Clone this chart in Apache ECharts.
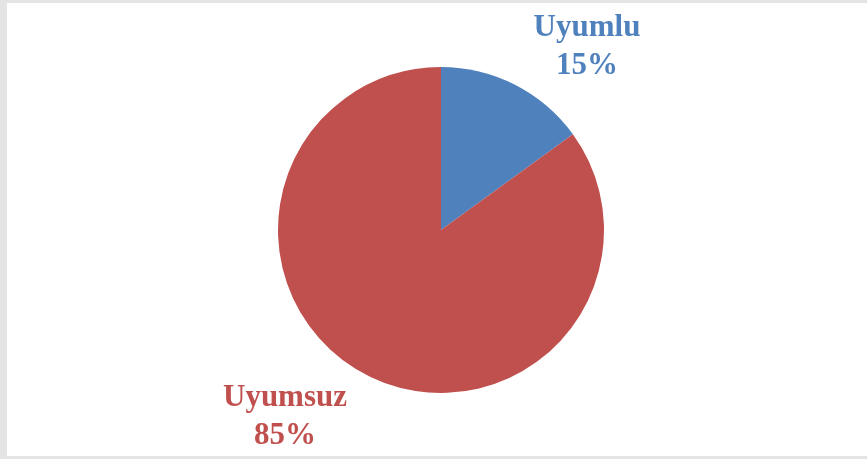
<!DOCTYPE html>
<html>
<head>
<meta charset="utf-8">
<script src="https://cdn.jsdelivr.net/npm/echarts@6/dist/echarts.min.js"></script>
<style>
  html, body { margin: 0; padding: 0; background: #e4e4e4; }
  #container { position: absolute; left: 7px; top: 3px; width: 860px; height: 453px; background: #fff; }
</style>
</head>
<body>
<div id="container"></div>
<script>
var names = ['Uyumlu', 'Uyumsuz'];   // kategoriler
var values = [15, 85];               // yüzde değerleri
var colors = ['#4F81BD', '#C0504D'];
var labelPos = [[580, 44], [278, 414]]; // etiket merkezleri (container içinde)

var myChart = echarts.init(document.getElementById('container'));

var data = [];
for (var i = 0; i < names.length; i++) {
  data.push({
    name: names[i],
    value: values[i],
    itemStyle: { color: colors[i] },
    label: { color: colors[i] }
  });
}

myChart.setOption({
  animation: false,
  series: [{
    type: 'pie',
    center: [434, 227],
    radius: 163,
    startAngle: 90,
    clockwise: true,
    data: data,
    label: {
      show: true,
      position: 'outside',
      formatter: '{b}\n{d}%',
      fontFamily: 'Liberation Serif',
      fontWeight: 'bold',
      fontSize: 31,
      lineHeight: 38,
      align: 'center'
    },
    labelLine: { show: false },
    labelLayout: function (params) {
      var p = labelPos[params.dataIndex];
      return { x: p[0], y: p[1], align: 'center', verticalAlign: 'middle' };
    }
  }]
});
</script>
</body>
</html>
